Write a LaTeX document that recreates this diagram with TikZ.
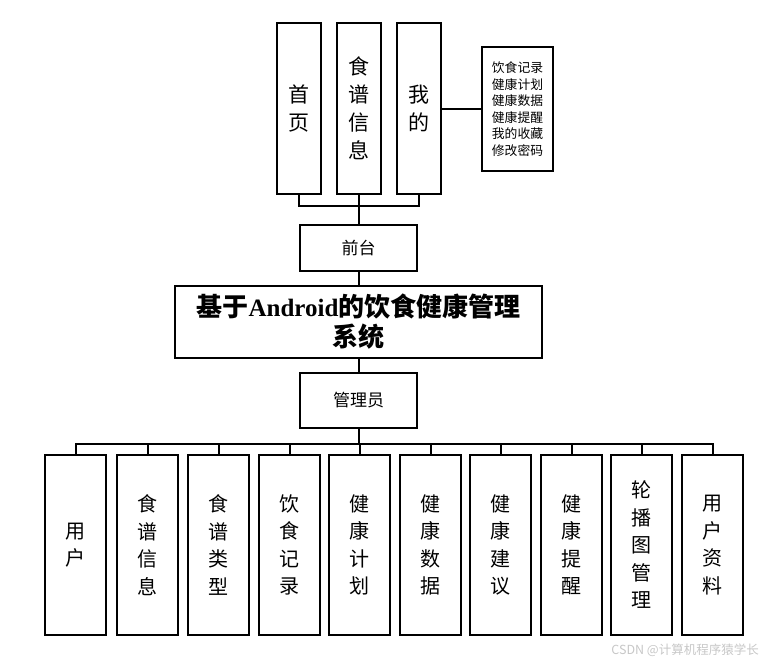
\documentclass[tikz,border=0pt]{standalone}
\usepackage{fontspec}
\setmainfont{Noto Sans CJK SC}
\newfontfamily\latfont{Liberation Serif}
\begin{document}
\begin{tikzpicture}[x=1pt,y=-1pt,
  box/.style={draw,line width=1.8pt,inner sep=0pt,align=center},
  tall/.style={box,minimum width=44pt,minimum height=171pt,font=\fontsize{21}{28}\selectfont},
  low/.style={box,minimum width=61pt,minimum height=180pt,font=\fontsize{20}{27.5}\selectfont},
  mid/.style={box,minimum width=117pt,font=\fontsize{17}{20}\selectfont},
  wire/.style={line width=2pt}]
\useasboundingbox (0,0) rectangle (767,665);
% top
\node[tall] (t1) at (299,108.5) {首\\页};
\node[tall] (t2) at (359,108.5) {食\\谱\\信\\息};
\node[tall] (t3) at (419,108.5) {我\\的};
\node[box,minimum width=71pt,minimum height=124pt,font=\fontsize{12.8}{16.5}\selectfont] (t4) at (517.5,109) {饮食记录\\健康计划\\健康数据\\健康提醒\\我的收藏\\修改密码};
\node[mid,minimum height=46pt] (qt) at (358.5,248) {前台};
\node[box,minimum width=367pt,minimum height=72pt,font=\fontsize{26}{30}\selectfont\bfseries] (title) at (358.5,322) {基于{\latfont\fontsize{25}{30}\selectfont Android}的饮食健康管理\\系统};
\node[mid,minimum height=55pt] (gl) at (358.5,400.5) {管理员};
% bottom
\node[low] (b1) at (75.5,545) {用\\户};
\node[low] (b2) at (147.5,545) {食\\谱\\信\\息};
\node[low] (b3) at (218.5,545) {食\\谱\\类\\型};
\node[low] (b4) at (289.5,545) {饮\\食\\记\\录};
\node[low] (b5) at (359.5,545) {健\\康\\计\\划};
\node[low] (b6) at (430.5,545) {健\\康\\数\\据};
\node[low] (b7) at (500.5,545) {健\\康\\建\\议};
\node[low] (b8) at (571.5,545) {健\\康\\提\\醒};
\node[low] (b9) at (641.5,545) {轮\\播\\图\\管\\理};
\node[low] (b10) at (712.5,545) {用\\户\\资\\料};
% connectors
\coordinate (tb) at (359,206);
\coordinate (bb) at (359,444);
\draw[wire] (t1.south) |- (tb) -| (t3.south);
\draw[wire] (t2.south) -- (t2.south |- qt.north);
\draw[wire] (t3.east) -- (t3.east -| t4.west);
\draw[wire] (t2.south |- qt.south) -- (t2.south |- title.north);
\draw[wire] (t2.south |- title.south) -- (t2.south |- gl.north);
\draw[wire] (t2.south |- gl.south) -- (bb);
\draw[wire] (b1.north) |- (bb) -| (b10.north);
\foreach \i in {2,...,9} {\draw[wire] (b\i.north) -- (b\i.north |- bb);}
\node[text=black!22,font=\fontsize{12.5}{14}\selectfont,anchor=east,inner sep=0pt] (wm) at (759,650) {CSDN @计算机程序猿学长};
\end{tikzpicture}
\end{document}
